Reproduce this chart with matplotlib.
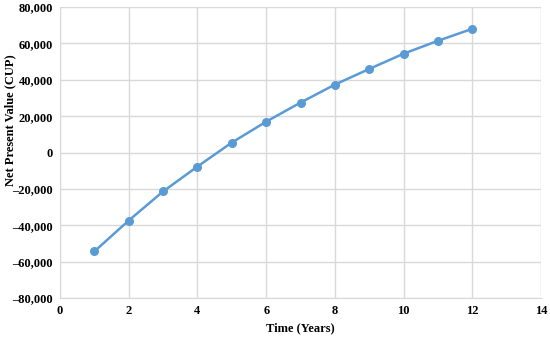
import matplotlib.pyplot as plt
from matplotlib.ticker import FuncFormatter

years = [1, 2, 3, 4, 5, 6, 7, 8, 9, 10, 11, 12]
npv = [-54400, -37400, -21400, -7700, 5500, 17000, 27500, 37400, 46000, 54400, 61500, 68100]

plt.rcParams['font.family'] = ['Liberation Serif', 'DejaVu Serif']

fig = plt.figure(figsize=(5.5, 3.39), dpi=100)
ax = fig.add_axes([0.109, 0.121, 0.875, 0.858])

ax.plot(years, npv, color='#5B9BD5', linewidth=1.8, marker='o', markersize=5.5, zorder=3)

ax.set_xlim(0, 14)
ax.set_ylim(-80000, 80000)
ax.set_xticks(range(0, 15, 2))
ax.set_yticks(range(-80000, 80001, 20000))

def fmt(v, pos):
    if v == 0:
        return '0'
    s = '{:,.0f}'.format(abs(v))
    return ('\u2013' + s) if v < 0 else s

ax.yaxis.set_major_formatter(FuncFormatter(fmt))
ax.grid(True, color='#D9D9D9', linewidth=1)
ax.set_axisbelow(True)
for side in ['top', 'right']:
    ax.spines[side].set_visible(False)
for side in ['left', 'bottom']:
    ax.spines[side].set_color('#D9D9D9')
ax.tick_params(length=0, labelsize=9, pad=5)
for lbl in ax.get_xticklabels() + ax.get_yticklabels():
    lbl.set_fontweight('bold')

ax.set_xlabel('Time (Years)', fontsize=9, fontweight='bold', labelpad=4)
ax.set_ylabel('Net Present Value (CUP)', fontsize=9, fontweight='bold', va='center')
ax.yaxis.set_label_coords(-0.104, 0.612)

fig.savefig('out.png', dpi=100)
